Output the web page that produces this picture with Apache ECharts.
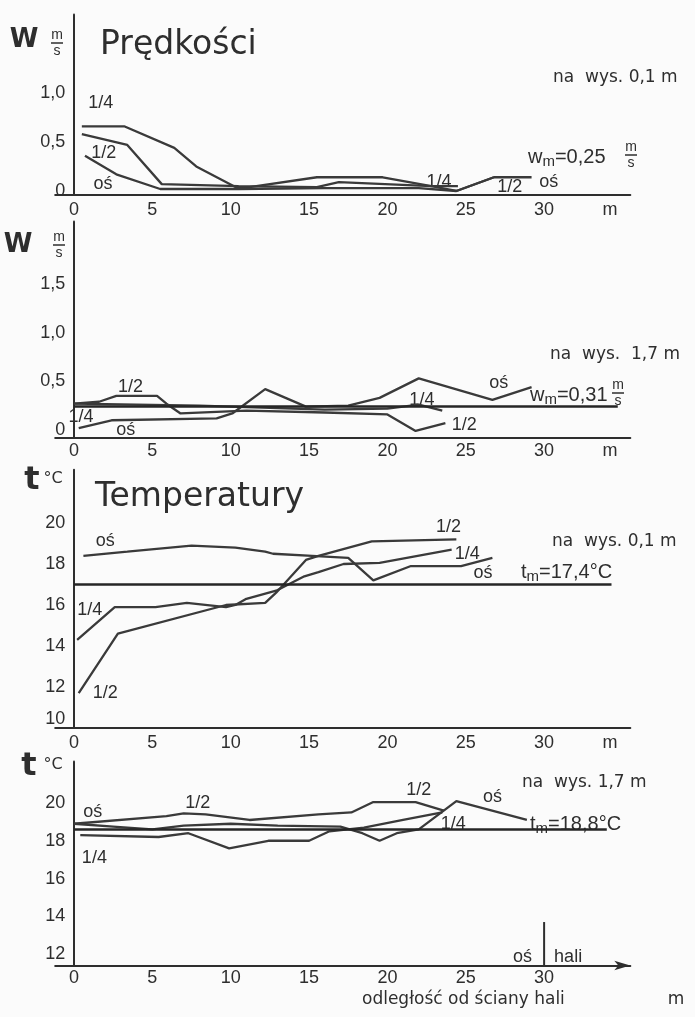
<!DOCTYPE html>
<html>
<head>
<meta charset="utf-8">
<script src="https://cdn.jsdelivr.net/npm/echarts@6/dist/echarts.min.js"></script>
<style>
html, body { margin: 0; padding: 0; background: #fbfbfb; }
#chart { width: 695px; height: 1017px; }
</style>
</head>
<body>
<div id="chart"></div>
<script>
// odległość od ściany hali [m], prędkość w [m/s], temperatura t [°C]
var xTicks = [0, 5, 10, 15, 20, 25, 30];
var wTicks1 = [0, 0.5, 1.0];
var wTicks2 = [0, 0.5, 1.0, 1.5];
var tTicks3 = [10, 12, 14, 16, 18, 20];
var tTicks4 = [12, 14, 16, 18, 20];

// prędkości, na wys. 0,1 m
var x1_14 = [0.5, 3.2, 6.4, 7.8, 10.3, 11.2, 15.5, 19.7, 22.8, 24.5];
var w1_14 = [0.66, 0.66, 0.44, 0.25, 0.04, 0.04, 0.14, 0.14, 0.05, 0.05];
var x1_12 = [0.5, 3.4, 5.6, 10.5, 15.5, 16.9, 22.8, 24.4, 26.8];
var w1_12 = [0.58, 0.47, 0.07, 0.05, 0.04, 0.09, 0.05, 0.0, 0.14];
var x1_os = [0.7, 2.7, 5.5, 10.5, 16, 22, 24.4, 26.8, 29.2];
var w1_os = [0.36, 0.17, 0.02, 0.02, 0.03, 0.03, 0.0, 0.14, 0.14];

// prędkości, na wys. 1,7 m
var x2_14 = [0, 4, 8, 12, 16, 20, 22, 23.5];
var w2_14 = [0.27, 0.26, 0.25, 0.23, 0.21, 0.22, 0.26, 0.2];
var x2_12 = [0, 1.6, 2.7, 5.3, 5.9, 6.8, 11, 16, 20, 21.8, 23.7];
var w2_12 = [0.27, 0.29, 0.35, 0.35, 0.27, 0.17, 0.2, 0.18, 0.16, -0.01, 0.07];
var x2_os = [0.3, 2.4, 9.1, 10.1, 12.2, 14.8, 17.5, 19.5, 22, 26.7, 29.2];
var w2_os = [0.02, 0.1, 0.12, 0.17, 0.42, 0.24, 0.25, 0.33, 0.53, 0.31, 0.44];

// temperatury, na wys. 0,1 m
var x3_os = [0.6, 3.4, 7.5, 10.3, 12.2, 12.7, 15.2, 17.5, 19.1, 21.5, 24.7, 26.7];
var t3_os = [18.4, 18.6, 18.9, 18.8, 18.6, 18.5, 18.4, 18.3, 17.2, 17.9, 17.9, 18.3];
var x3_12 = [0.3, 2.8, 9.7, 12.2, 12.9, 14.8, 15.6, 19, 24.4];
var t3_12 = [11.7, 14.6, 16.0, 16.1, 16.6, 18.2, 18.4, 19.1, 19.2];
var x3_14 = [0.2, 2.6, 5.2, 7.2, 9.7, 10.3, 11, 12.9, 14.7, 15.6, 17.2, 19.5, 24.1];
var t3_14 = [14.3, 15.9, 15.9, 16.1, 15.9, 16.0, 16.3, 16.7, 17.4, 17.6, 18.0, 18.05, 18.7];

// temperatury, na wys. 1,7 m
var x4_12 = [0, 5.9, 7, 8.4, 11.2, 15.6, 17.7, 19.1, 21.8, 23.6];
var t4_12 = [18.9, 19.3, 19.45, 19.4, 19.1, 19.4, 19.5, 20.05, 20.05, 19.6];
var x4_14 = [0.4, 5.4, 7.3, 9.9, 12.4, 15, 16.3, 18.5, 21, 23.5];
var t4_14 = [18.3, 18.2, 18.4, 17.6, 18.0, 18.0, 18.5, 18.7, 19.1, 19.5];
var x4_os = [0, 2.5, 5, 7, 10, 13, 17, 18.4, 19.5, 20.6, 22, 24.4, 28.9];
var t4_os = [18.9, 18.75, 18.6, 18.8, 18.9, 18.8, 18.75, 18.4, 18.0, 18.4, 18.6, 20.1, 19.1];

// średnie (położenie linii na rysunku) i ich opisy
var meanLevel = [0.25, 0.24, 17.0, 18.6];
var meanText = ['0,25', '0,31', '17,4', '18,8'];

var ink = '#2e2e2e';
var narrow = "'Liberation Sans',Arial,sans-serif";
var sans = "'DejaVu Sans',sans-serif";

var dom = document.getElementById('chart');
var chart = echarts.init(dom, null, { renderer: 'canvas' });

var grids = [
    { top: 14.6, height: 180.3 },
    { top: 221.6, height: 216.2 },
    { top: 469.7, height: 258.3 },
    { top: 761.4, height: 204.1 }
];
var yRange = [[-0.04, 1.8], [-0.08, 2.14], [10, 22.6], [11.4, 22.2]];
var yTicks = [wTicks1, wTicks2, tTicks3, tTicks4];
var xMargin = [6, 4, 6, 4];
var meanEnd = [35.8, 34.7, 34.3, 34];

function pairs(xs, ys) {
    return xs.map(function (x, k) { return [x, ys[k]]; });
}
function fmtW(v) {
    return v === 0 ? '0' : v.toFixed(1).replace('.', ',');
}
function fmtT(v) {
    // najniższa wartość stoi nad osią
    return v === 10 ? '{up|10}' : String(v);
}
function curve(i, xs, ys, mean) {
    var s = {
        type: 'line', xAxisIndex: i, yAxisIndex: i,
        data: pairs(xs, ys), symbol: 'none', silent: true,
        lineStyle: { color: '#3a3a3a', width: 2.3 }
    };
    if (mean !== undefined) {
        s.markLine = {
            symbol: ['none', 'none'], silent: true, label: { show: false },
            lineStyle: { color: '#262626', width: 2.6, type: 'solid' },
            data: [[{ coord: [0, mean] }, { coord: [meanEnd[i], mean] }]]
        };
    }
    return s;
}

var option = {
    backgroundColor: '#fbfbfb',
    animation: false,
    grid: grids.map(function (g) {
        return { left: 55.2, right: 64.7, top: g.top, height: g.height, outerBoundsMode: 'none' };
    }),
    xAxis: grids.map(function (g, i) {
        return {
            type: 'value', gridIndex: i, min: -1.2, max: 35.5,
            axisLine: {
                onZero: false,
                symbol: i === 3 ? ['none', 'arrow'] : ['none', 'none'],
                symbolSize: [7, 16],
                lineStyle: { color: ink, width: 2 }
            },
            axisTick: { show: false },
            splitLine: { show: false },
            axisLabel: {
                customValues: i < 3 ? xTicks.concat([34.2]) : xTicks,
                formatter: function (v) { return v > 32 ? 'm' : String(v); },
                color: ink, fontSize: 18, fontFamily: narrow, margin: xMargin[i]
            }
        };
    }),
    yAxis: grids.map(function (g, i) {
        return {
            type: 'value', gridIndex: i, min: yRange[i][0], max: yRange[i][1],
            axisLine: { onZero: true, lineStyle: { color: ink, width: 2 } },
            axisTick: { show: false },
            splitLine: { show: false },
            axisLabel: {
                customValues: yTicks[i],
                formatter: i < 2 ? fmtW : fmtT,
                color: ink, fontSize: 18, fontFamily: narrow, margin: -10,
                rich: { up: { fontSize: 18, fontFamily: narrow, color: ink, padding: [0, 0, 18, 0] } }
            }
        };
    }),
    series: [
        curve(0, x1_14, w1_14), curve(0, x1_12, w1_12), curve(0, x1_os, w1_os, meanLevel[0]),
        curve(1, x2_14, w2_14), curve(1, x2_12, w2_12), curve(1, x2_os, w2_os, meanLevel[1]),
        curve(2, x3_14, t3_14), curve(2, x3_12, t3_12), curve(2, x3_os, t3_os, meanLevel[2]),
        curve(3, x4_14, t4_14), curve(3, x4_12, t4_12), curve(3, x4_os, t4_os, meanLevel[3])
    ]
};
chart.setOption(option);

// opisy
var g = [];
function text(x, y, s, size, opts) {
    opts = opts || {};
    g.push({
        type: 'text', x: x, y: y, silent: true,
        style: {
            text: s, fill: ink, fontSize: size,
            fontFamily: opts.family || sans, fontWeight: opts.weight || 'normal',
            align: opts.align || 'center', verticalAlign: 'middle', rich: opts.rich
        }
    });
}
function frac(cx, cy) {
    text(cx, cy - 8, 'm', 14, { family: narrow });
    g.push({ type: 'line', silent: true, shape: { x1: cx - 6, y1: cy, x2: cx + 6, y2: cy },
             style: { stroke: ink, lineWidth: 1.5 } });
    text(cx, cy + 8, 's', 14, { family: narrow });
}
function note(i, s, x, y) {
    var p = chart.convertToPixel({ gridIndex: i }, [x, y]);
    text(p[0], p[1], s, 18, { family: narrow });
}
var sub = { s: { fontSize: 15, fontFamily: narrow, fill: ink, padding: [10, 0, 0, 0] } };

// nagłówki osi
text(24, 40, 'W', 26, { weight: 'bold' });
frac(57, 43);
text(18, 245, 'W', 26, { weight: 'bold' });
frac(59, 245);
text(32, 481, 't', 32, { weight: 'bold' });
text(53, 479, '°C', 16);
text(29, 767, 't', 32, { weight: 'bold' });
text(53, 765, '°C', 16);

text(100, 45, 'Prędkości', 33, { align: 'left' });
text(95, 497, 'Temperatury', 33, { align: 'left' });

text(553, 78, 'na  wys. 0,1 m', 17, { align: 'left' });
text(550, 355, 'na  wys.  1,7 m', 17, { align: 'left' });
text(552, 542, 'na  wys. 0,1 m', 17, { align: 'left' });
text(522, 783, 'na  wys. 1,7 m', 17, { align: 'left' });

text(528, 157, 'w{s|m}=' + meanText[0], 20, { align: 'left', family: narrow, rich: sub });
frac(631, 155);
text(530, 395, 'w{s|m}=' + meanText[1], 20, { align: 'left', family: narrow, rich: sub });
frac(618, 393);
text(521, 572, 't{s|m}=' + meanText[2] + '°C', 20, { align: 'left', family: narrow, rich: sub });
text(530, 824, 't{s|m}=' + meanText[3] + '°C', 20, { align: 'left', family: narrow, rich: sub });

// oznaczenia krzywych
note(0, '1/4', 1.7, 0.9); note(0, '1/2', 1.9, 0.39); note(0, 'oś', 1.85, 0.07);
note(0, '1/4', 23.3, 0.09); note(0, '1/2', 27.8, 0.04); note(0, 'oś', 30.3, 0.09);
note(1, '1/2', 3.6, 0.44); note(1, '1/4', 0.45, 0.13); note(1, 'oś', 3.3, 0.0);
note(1, 'oś', 27.1, 0.48); note(1, '1/4', 22.2, 0.31); note(1, '1/2', 24.9, 0.05);
note(2, 'oś', 2.0, 19.1); note(2, '1/4', 1.0, 15.75); note(2, '1/2', 2.0, 11.7);
note(2, '1/2', 23.9, 19.8); note(2, '1/4', 25.1, 18.5); note(2, 'oś', 26.1, 17.55);
note(3, 'oś', 1.2, 19.5); note(3, '1/4', 1.3, 17.1); note(3, '1/2', 7.9, 20.0);
note(3, '1/2', 22, 20.7); note(3, 'oś', 26.7, 20.3); note(3, '1/4', 24.2, 18.9);

// oś hali przy 30 m
var a = chart.convertToPixel({ gridIndex: 3 }, [30, 13.7]);
var b = chart.convertToPixel({ gridIndex: 3 }, [30, 11.4]);
g.push({ type: 'line', silent: true, shape: { x1: a[0], y1: a[1], x2: b[0], y2: b[1] },
         style: { stroke: ink, lineWidth: 2 } });
text(a[0] - 12, 957, 'oś', 18, { family: narrow, align: 'right' });
text(a[0] + 10, 957, 'hali', 18, { family: narrow, align: 'left' });

text(362, 1000, 'odległość od ściany hali', 17, { align: 'left' });
text(676, 1000, 'm', 17);

chart.setOption({ graphic: g });

window.addEventListener('resize', chart.resize);
</script>
</body>
</html>
